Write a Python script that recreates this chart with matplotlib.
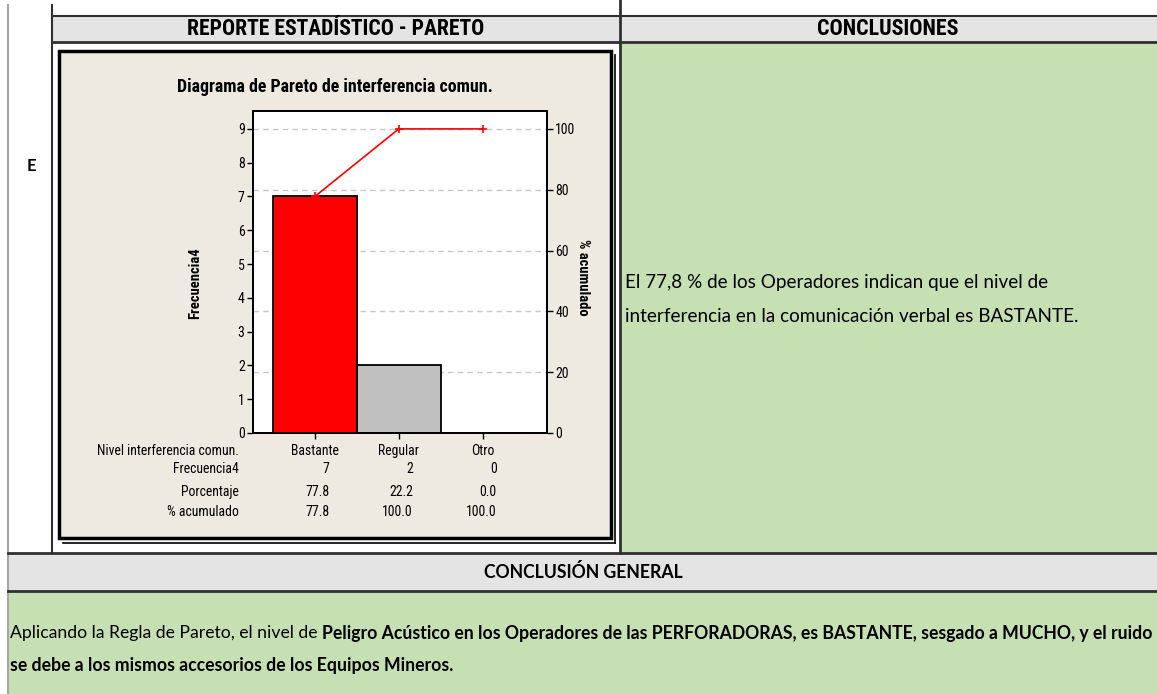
import matplotlib
matplotlib.use("Agg")
import matplotlib.pyplot as plt
from matplotlib.patches import Rectangle
from matplotlib.lines import Line2D
from matplotlib import transforms, font_manager

# data
categorias = ["Bastante", "Regular", "Otro"]
frecuencia = [7, 2, 0]
porcentaje = [77.8, 22.2, 0.0]
acumulado = [77.8, 100.0, 100.0]
total = 9

titulo = "Diagrama de Pareto de interferencia comun."
conclusion = ["El 77,8 % de los Operadores indican que el nivel de",
              "interferencia en la comunicación verbal es BASTANTE."]
general_normal = "Aplicando la Regla de Pareto, el nivel de"
general_bold = ["Peligro Acústico en los Operadores de las PERFORADORAS, es BASTANTE, sesgado a MUCHO, y el ruido",
                "se debe a los mismos accesorios de los Equipos Mineros."]

W, H = 1157, 694
fig = plt.figure(figsize=(W / 100, H / 100), dpi=100)
fig.patch.set_facecolor("white")

names = {f.name for f in font_manager.fontManager.ttflist}
narrow = "Liberation Sans"
for n in ["Liberation Sans Narrow", "Roboto Condensed", "Liberation Sans"]:
    if n in names:
        narrow = n
        break
body = "Lato" if "Lato" in names else "DejaVu Sans"


def fx(px):
    return px / W


def fy(py):
    return 1 - py / H


def rect(x0, y0, x1, y1, color, **kw):
    fig.patches.append(Rectangle((fx(x0), fy(y1)), fx(x1) - fx(x0), fy(y0) - fy(y1),
                                 transform=fig.transFigure, facecolor=color, **kw))


def line(x0, y0, x1, y1, color="#303030", lw=1.5):
    fig.lines.append(Line2D([fx(x0), fx(x1)], [fy(y0), fy(y1)], transform=fig.transFigure,
                            color=color, lw=lw))


def fit(t, width):
    r = fig.canvas.get_renderer()
    w = t.get_window_extent(r).width
    t.set_fontsize(t.get_fontsize() * width / w)
    return t


# table cells
rect(52, 16, W, 42, "#e4e4e4", lw=0)
rect(620, 43, W, 553, "#c6e0b4", lw=0)
rect(8, 553, W, 591, "#e4e4e4", lw=0)
rect(9, 592, W, H, "#c6e0b4", lw=0)
line(8, 5, 8, H, color="#a6a6a6", lw=1.5)
line(52, 5, 52, 553)
line(620, 0, 620, 553, lw=2)
line(52, 16, W, 16)
line(52, 42, W, 42, lw=2)
line(8, 553, W, 553, lw=2)
line(8, 591, W, 591, lw=2)

# chart frame
rect(59, 51, 611, 538, "#eeeae2", edgecolor="black", lw=2.5)
line(615, 55, 615, 543, color="black", lw=1.2)
line(63, 543, 615, 543, color="black", lw=1.2)

# headers
t = fig.text(fx(336), fy(29), "REPORTE ESTADÍSTICO - PARETO", family=narrow, weight="bold",
             fontsize=12, ha="center", va="center")
fit(t, 297)
t = fig.text(fx(888), fy(29), "CONCLUSIONES", family=narrow, weight="bold",
             fontsize=12, ha="center", va="center")
fit(t, 141)
t = fig.text(fx(583), fy(572), "CONCLUSIÓN GENERAL", family=body, weight="bold",
             fontsize=12, ha="center", va="center")
fit(t, 200)
fig.text(fx(31), fy(166), "E", family=body, weight="bold", fontsize=12, ha="center", va="center")

# right conclusion text
t2 = fig.text(fx(625), fy(317), conclusion[1], family=body, fontsize=12, ha="left", va="center")
fit(t2, 452)
fig.text(fx(625), fy(283), conclusion[0], family=body, fontsize=t2.get_fontsize(),
         ha="left", va="center")

# general conclusion, mixed weight
r = fig.canvas.get_renderer()
a = fig.text(fx(10), fy(633), general_normal, family=body, fontsize=12, ha="left", va="center")
b = fig.text(fx(10), fy(633), general_bold[0], family=body, weight="bold", fontsize=12,
             ha="left", va="center")
wa = a.get_window_extent(r).width
wb = b.get_window_extent(r).width
s = 12 * (1142 - 5) / (wa + wb)
a.set_fontsize(s)
b.set_fontsize(s)
wa = a.get_window_extent(r).width
b.set_x(fx(10 + wa + 5))
fig.text(fx(10), fy(665), general_bold[1], family=body, weight="bold", fontsize=s,
         ha="left", va="center")

# pareto chart
ax = fig.add_axes([fx(253), fy(433), fx(547) - fx(253), fy(111) - fy(433)])
x = list(range(len(categorias)))
ytop = 9.53
ax.bar(x, frecuencia, width=1.0, color=["#ff0000", "#c0c0c0", "#c0c0c0"],
       edgecolor="black", linewidth=1.3, zorder=2)
for p in [20, 40, 60, 80, 100]:
    ax.axhline(p * total / 100, color="#c8c8c8", ls=(0, (4, 3)), lw=1, zorder=1)
ax.set_xlim(-0.74, 2.77)
ax.set_ylim(0, ytop)
ax.set_yticks(range(0, 10))
ax.set_xticks(x)
ax.set_xticklabels([])
ax.tick_params(length=4, width=1, labelsize=10, pad=2)
for lab in ax.get_yticklabels():
    lab.set_family(narrow)

ax2 = ax.twinx()
ax.set_zorder(5)
ax2.set_zorder(6)
ax2.patch.set_visible(False)
ax2.plot(x, acumulado, color="red", lw=1.2, marker="+", ms=6, mew=1.2, zorder=3)
ax2.set_ylim(0, ytop * 100 / total)
ax2.set_yticks([0, 20, 40, 60, 80, 100])
ax2.tick_params(length=4, width=1, labelsize=10, pad=2)
for lab in ax2.get_yticklabels():
    lab.set_family(narrow)
for a_ in (ax, ax2):
    for sp in a_.spines.values():
        sp.set_linewidth(1.3)

t = fig.text(fx(335), fy(87), titulo, family=narrow, weight="bold", fontsize=11,
             ha="center", va="center")
fit(t, 314)
fig.text(fx(195), fy(283), "Frecuencia4", family=narrow, weight="bold", fontsize=10.5,
         rotation=90, ha="center", va="center")
fig.text(fx(583), fy(277), "% acumulado", family=narrow, weight="bold", fontsize=10.5,
         rotation=270, ha="center", va="center")

# table under chart
tr = transforms.blended_transform_factory(ax.transData, fig.transFigure)
filas = [("Nivel interferencia comun.", 451), ("Frecuencia4", 469),
         ("Porcentaje", 492), ("% acumulado", 512)]
lab0 = fig.text(fx(239), fy(451), filas[0][0], family=narrow, fontsize=10, ha="right", va="center")
fit(lab0, 142)
fs = lab0.get_fontsize()
for nombre, yy in filas[1:]:
    fig.text(fx(239), fy(yy), nombre, family=narrow, fontsize=fs, ha="right", va="center")
for i, c in enumerate(categorias):
    ax.text(i, fy(451), c, transform=tr, family=narrow, fontsize=fs, ha="center", va="center")
    ax.text(i + 0.17, fy(469), str(frecuencia[i]), transform=tr, family=narrow, fontsize=fs,
            ha="right", va="center")
    ax.text(i + 0.17, fy(492), f"{porcentaje[i]:.1f}", transform=tr, family=narrow, fontsize=fs,
            ha="right", va="center")
    ax.text(i + 0.17, fy(512), f"{acumulado[i]:.1f}", transform=tr, family=narrow, fontsize=fs,
            ha="right", va="center")

fig.savefig("out.png", dpi=100)
